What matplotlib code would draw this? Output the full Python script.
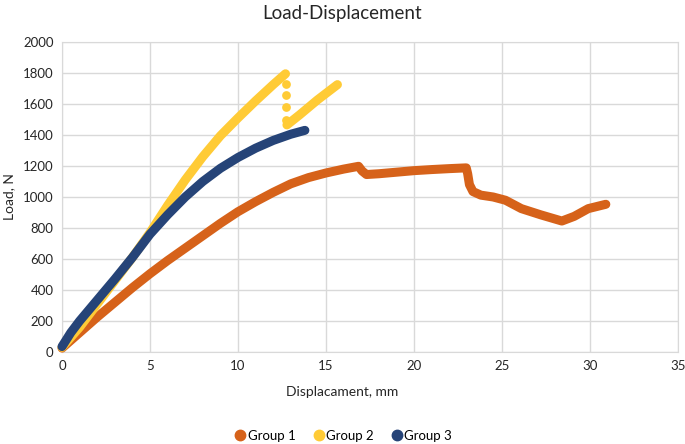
import matplotlib.pyplot as plt
from matplotlib.lines import Line2D

plt.rcParams['font.family'] = ['Lato', 'DejaVu Sans']

# Group 1 (orange)
g1_x = [0, 1, 2, 3, 4, 5, 6, 7, 8, 9, 10, 11, 12, 13, 14, 15, 16, 16.85,
        17.05, 17.3, 18, 19, 20, 21, 22, 22.97, 23.05, 23.15, 23.35, 23.8,
        24.5, 25.2, 26.1, 27.2, 28.4, 29.1, 29.9, 30.9]
g1_y = [25, 125, 225, 320, 415, 505, 590, 670, 750, 830, 905, 970, 1030, 1085,
        1125, 1155, 1180, 1198, 1168, 1145, 1150, 1160, 1170, 1177, 1183, 1188,
        1150, 1080, 1035, 1012, 1000, 979, 925, 885, 845, 875, 925, 953]

# Group 2 (yellow): first loading branch, drop, second branch
g2_x = [0, 1, 2, 3, 4, 5, 6, 7, 8, 9, 10, 11, 12, 12.7]
g2_y = [30, 160, 310, 460, 610, 770, 945, 1110, 1260, 1395, 1510, 1620, 1725, 1795]
g2_drop_x = [12.72, 12.72, 12.72, 12.72]
g2_drop_y = [1730, 1659, 1580, 1494]
g2b_x = [12.78, 13.5, 14.5, 15.65]
g2b_y = [1465, 1530, 1625, 1725]

# Group 3 (blue)
g3_x = [0, 0.5, 1, 2, 3, 4, 5, 6, 7, 8, 9, 10, 11, 12, 13, 13.8]
g3_y = [35, 125, 200, 335, 470, 610, 760, 885, 1000, 1100, 1185, 1255, 1315,
        1365, 1405, 1430]

c1 = '#D6621A'
c2 = '#FFCB36'
c3 = '#264478'
lw = 6.5

fig = plt.figure(figsize=(6.85, 4.44), dpi=100)
ax = fig.add_axes([62 / 685, 1 - 352 / 444, 616 / 685, 310 / 444])

ax.plot(g1_x, g1_y, color=c1, lw=lw, solid_capstyle='round',
        solid_joinstyle='round', clip_on=False, zorder=3)
ax.plot(g2_x, g2_y, color=c2, lw=lw, solid_capstyle='round',
        solid_joinstyle='round', clip_on=False, zorder=4)
ax.plot(g2_drop_x, g2_drop_y, 'o', color=c2, ms=6.3, mew=0, zorder=4)
ax.plot(g2b_x, g2b_y, color=c2, lw=lw, solid_capstyle='round',
        solid_joinstyle='round', zorder=4)
ax.plot(g3_x, g3_y, color=c3, lw=lw, solid_capstyle='round',
        solid_joinstyle='round', clip_on=False, zorder=5)

ax.set_xlim(0, 35)
ax.set_ylim(0, 2000)
ax.set_xticks(range(0, 36, 5))
ax.set_yticks(range(0, 2001, 200))
ax.grid(True, color='#D9D9D9', lw=1)
ax.set_axisbelow(True)
for s in ax.spines.values():
    s.set_color('#D9D9D9')
ax.tick_params(length=0, labelsize=9.5, labelcolor='#262626', pad=6)

fig.text(0.5, 1 - 13 / 444, 'Load-Displacement', ha='center', va='center',
         fontsize=13.5, color='#262626')
fig.text(0.5, 1 - 392 / 444, 'Displacament, mm', ha='center', va='center',
         fontsize=10, color='#262626')
fig.text(9 / 685, 1 - 197 / 444, 'Load, N', ha='center', va='center',
         rotation=90, fontsize=10, color='#262626')

handles = [Line2D([], [], ls='', marker='o', color=c, ms=7.5)
           for c in (c1, c2, c3)]
fig.legend(handles, ['Group 1', 'Group 2', 'Group 3'], loc='center',
           bbox_to_anchor=(343 / 685, 1 - 436 / 444), ncol=3, frameon=False,
           fontsize=9.5, handletextpad=0.1, columnspacing=1.2,
           handlelength=1.0)

fig.savefig('out.png', dpi=100)
